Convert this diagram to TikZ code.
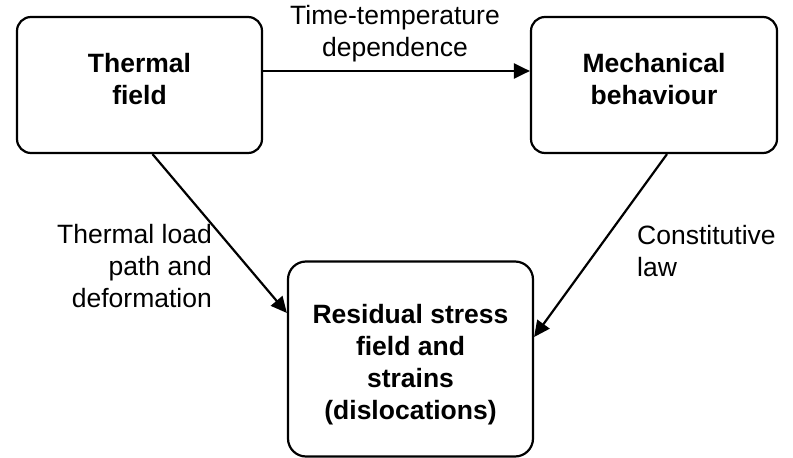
\documentclass[tikz,border=0pt]{standalone}
\usepackage{fontspec}
\setmainfont{Liberation Sans}
\usetikzlibrary{arrows.meta}
\begin{document}
\begin{tikzpicture}[x=1pt,y=-1pt,
  box/.style={draw, line width=2.2pt, rounded corners=14pt, align=center,
    font=\fontsize{26.5}{32}\selectfont\bfseries, inner sep=0pt},
  lbl/.style={font=\fontsize{26.5}{32}\selectfont, inner sep=0pt},
  conn/.style={line width=2.2pt, -{Triangle[length=16pt,width=15pt]}}]
\useasboundingbox (0,0) rectangle (793,458);
\node[box, minimum width=245, minimum height=136] (t) at (139.5,85)
  {Thermal\\field\rule[-12pt]{0pt}{12pt}};
\node[box, minimum width=246, minimum height=136] (m) at (654,85)
  {Mechanical\\behaviour\rule[-12pt]{0pt}{12pt}};
\node[box, rounded corners=18pt, minimum width=245, minimum height=195] (r) at (410.5,359)
  {\rule{0pt}{30pt}Residual stress\\field and\\strains\\(dislocations)};
\node[lbl, align=center] (l1) at (395,34) {Time-temperature\\dependence};
\node[lbl, align=right, anchor=east] (l2) at (212,266) {Thermal load\\path and\\deformation};
\node[lbl, align=left, anchor=west] (l3) at (637,251) {Constitutive\\law};
\draw[conn] ([yshift=14pt]t.east) -- ([yshift=14pt]m.west);
\draw[conn] ([xshift=13pt]t.south) -- ([yshift=46pt]r.west);
\draw[conn] ([xshift=13pt]m.south) -- ([yshift=22pt]r.east);
\end{tikzpicture}
\end{document}
